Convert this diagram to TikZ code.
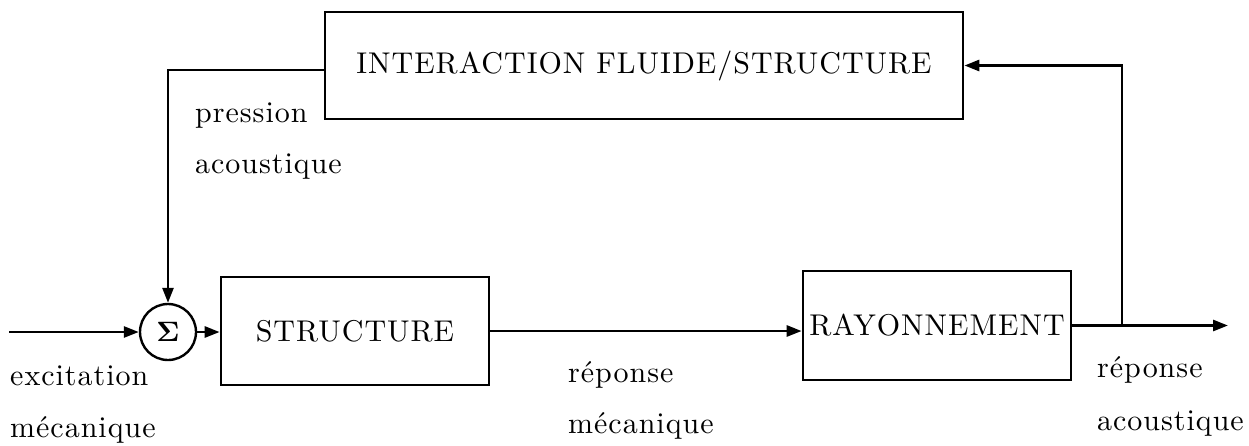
\documentclass[tikz,border=0pt]{standalone}
\usepackage{fontspec}
\setmainfont{Latin Modern Roman}[LetterSpace=3.3]
\usepackage{amsmath}
\usepackage{graphicx}
\usetikzlibrary{arrows.meta,calc}
\newcommand\bigtxt[1]{\scalebox{3}{\fontsize{10}{12}\selectfont #1}}
\tikzset{
  blk/.style={draw, line width=2.7pt, inner sep=0pt, minimum width=#1},
  sumnode/.style={draw, circle, line width=2.4pt, minimum size=56pt, inner sep=0pt},
  wire/.style={line width=2.7pt, -{Triangle[length=15pt,width=11pt]}},
  lbl/.style={anchor=base west, inner sep=0pt}
}
\begin{document}
\begin{tikzpicture}[x=1pt,y=-1pt]
\useasboundingbox (0,0) rectangle (1249,445);
% blocks
\node[blk=638pt, minimum height=107pt] (top) at (644,65.5) {\bigtxt{INTERACTION FLUIDE/STRUCTURE}};
\node[blk=268pt, minimum height=108pt] (struct) at (355,331) {\bigtxt{STRUCTURE}};
\node[blk=268pt, minimum height=109pt] (ray) at (937,325.5) {\bigtxt{RAYONNEMENT}};
\node[sumnode] (sum) at (168,332) {\scalebox{2.8}{$\boldsymbol{\Sigma}$}};
% points
\coordinate (in) at (9,332);
\coordinate (out) at (1228,325.5);
\coordinate (tap) at (1122,325.5);
\coordinate (fbl) at (168,70);
% connectors
\draw[wire] (in) -- (sum.west);
\draw[wire] (sum.east) -- (sum.east -| struct.west);
\draw[wire] (struct.east) -- (struct.east -| ray.west);
\draw[wire] (ray.east) -- (out);
\draw[wire] (tap) |- (top.east);
\draw[wire] (top.west |- fbl) -- (fbl) -- (sum.north);
% labels
\node[lbl] (l1) at (195,122) {\bigtxt{pression}};
\node[lbl] (l2) at (195,173) {\bigtxt{acoustique}};
\node[lbl] (l3) at (10,385) {\bigtxt{excitation}};
\node[lbl] (l4) at (10,437) {\bigtxt{mécanique}};
\node[lbl] (l5) at (568,382) {\bigtxt{réponse}};
\node[lbl] (l6) at (568,433) {\bigtxt{mécanique}};
\node[lbl] (l7) at (1097,377) {\bigtxt{réponse}};
\node[lbl] (l8) at (1097,430) {\bigtxt{acoustique}};
\end{tikzpicture}
\end{document}
